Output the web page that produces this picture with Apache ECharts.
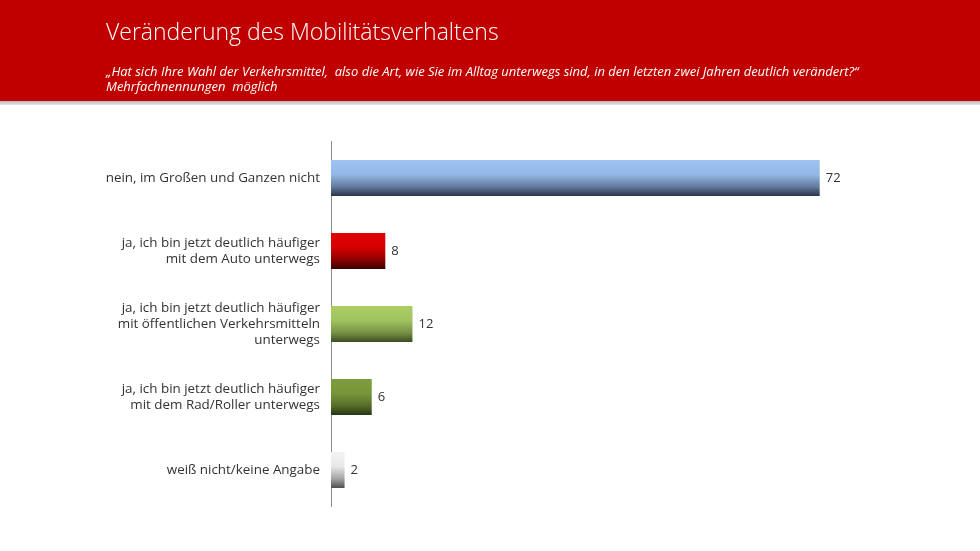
<!DOCTYPE html>
<html>
<head>
<meta charset="utf-8">
<script src="https://cdn.jsdelivr.net/npm/echarts@6/dist/echarts.min.js"></script>
<style>
  html, body { margin: 0; padding: 0; background: #fff; }
  #chart { width: 980px; height: 551px; }
</style>
</head>
<body>
<div id="chart"></div>
<script>
// Daten
const categories = [
  'nein, im Großen und Ganzen nicht',
  'ja, ich bin jetzt deutlich häufiger\nmit dem Auto unterwegs',
  'ja, ich bin jetzt deutlich häufiger\nmit öffentlichen Verkehrsmitteln\nunterwegs',
  'ja, ich bin jetzt deutlich häufiger\nmit dem Rad/Roller unterwegs',
  'weiß nicht/keine Angabe'
];
const values = [72, 8, 12, 6, 2];

// Farbverläufe je Balken (oben hell -> unten dunkel)
const barGradients = [
  ['#9DC3F4', '#93B8E6', '#62799A', '#29344A'],
  ['#E20000', '#D60000', '#8C0000', '#380000'],
  ['#AACD66', '#A1C45F', '#758F45', '#3D4B22'],
  ['#7D9D3D', '#779639', '#566C29', '#283314'],
  ['#F4F4F4', '#E8E8E8', '#A2A2A2', '#4E4E4E']
];

const FONT = '"Open Sans", "Noto Sans", sans-serif';

const gradient = (stops) => new echarts.graphic.LinearGradient(0, 0, 0, 1, [
  { offset: 0, color: stops[0] },
  { offset: 0.4, color: stops[1] },
  { offset: 0.75, color: stops[2] },
  { offset: 1, color: stops[3] }
]);

const chart = echarts.init(document.getElementById('chart'), null, { renderer: 'canvas' });

chart.setOption({
  backgroundColor: '#ffffff',
  animation: false,
  graphic: [
    // roter Kopfbereich
    { type: 'rect', left: 0, top: 0, z: -10, shape: { width: 980, height: 101 }, style: { fill: '#C00000' } },
    {
      type: 'rect', left: 0, top: 101, z: -10, shape: { width: 980, height: 4 },
      style: {
        fill: new echarts.graphic.LinearGradient(0, 0, 0, 1, [
          { offset: 0, color: '#b8b8b8' },
          { offset: 1, color: '#e8e8e8' }
        ])
      }
    },
    {
      type: 'text', left: 106, top: 22,
      style: { text: 'Veränderung des Mobilitätsverhaltens', fill: '#ffffff', font: '300 23px ' + FONT }
    },
    {
      type: 'text', left: 106, top: 65,
      style: {
        text: '„Hat sich Ihre Wahl der Verkehrsmittel,  also die Art, wie Sie im Alltag unterwegs sind, in den letzten zwei Jahren deutlich verändert?“\nMehrfachnennungen  möglich',
        fill: '#ffffff', font: 'italic 13px ' + FONT, lineHeight: 15
      }
    }
  ],
  grid: { left: 331, top: 141.5, width: 543, height: 365, containLabel: false },
  xAxis: {
    type: 'value', min: 0, max: 80,
    show: false
  },
  yAxis: {
    type: 'category',
    inverse: true,
    data: categories,
    axisLine: { show: true, lineStyle: { color: '#8c8c8c', width: 1 } },
    axisTick: { show: false },
    axisLabel: {
      color: '#333333', fontSize: 13.4, fontFamily: FONT, lineHeight: 16,
      margin: 11, align: 'right'
    },
    splitLine: { show: false }
  },
  series: [{
    type: 'bar',
    barWidth: 36,
    data: values.map((v, i) => ({ value: v, itemStyle: { color: gradient(barGradients[i]) } })),
    label: {
      show: true, position: 'right', distance: 6,
      color: '#333333', fontSize: 13, fontFamily: FONT
    }
  }]
});
</script>
</body>
</html>
